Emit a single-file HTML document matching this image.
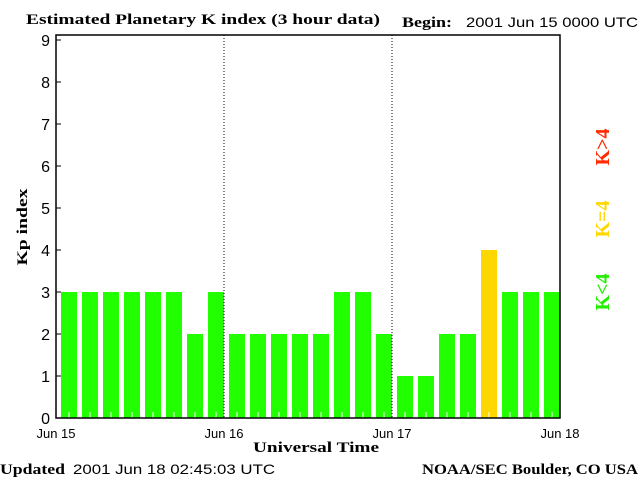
<!DOCTYPE html>
<html><head><meta charset="utf-8"><style>
body{margin:0;background:#fff}
svg{display:block}
.s{font-family:"Liberation Serif",serif;font-weight:bold;font-size:15px}
.n{font-family:"Liberation Sans",sans-serif;font-size:14px}
</style></head><body>
<svg id="c" width="640" height="480" xmlns="http://www.w3.org/2000/svg">
<text class="s" x="26" y="24" textLength="354" lengthAdjust="spacingAndGlyphs">Estimated Planetary K index (3 hour data)</text>
<text class="s" x="402" y="27" textLength="50" lengthAdjust="spacingAndGlyphs">Begin:</text>
<text class="n" x="466" y="27" textLength="172" lengthAdjust="spacingAndGlyphs">2001 Jun 15 0000 UTC</text>
<text class="s" x="0" y="0" transform="translate(27,227) rotate(-90)" text-anchor="middle" textLength="77" lengthAdjust="spacingAndGlyphs">Kp index</text>
<text class="s" x="253" y="452" font-size="14" textLength="126" lengthAdjust="spacingAndGlyphs">Universal Time</text>
<text class="s" x="0" y="474" textLength="65" lengthAdjust="spacingAndGlyphs">Updated</text>
<text class="n" x="73" y="474" textLength="202" lengthAdjust="spacingAndGlyphs">2001 Jun 18 02:45:03 UTC</text>
<text class="s" x="422" y="474" textLength="216" lengthAdjust="spacingAndGlyphs">NOAA/SEC Boulder, CO USA</text>
<g font-family="Liberation Serif,serif" font-weight="bold" font-size="20">
<text transform="translate(609,147) rotate(-90)" text-anchor="middle" fill="#ff2a00">K&gt;4</text>
<text transform="translate(609,219) rotate(-90)" text-anchor="middle" fill="#ffd700">K=4</text>
<text transform="translate(609,292) rotate(-90)" text-anchor="middle" fill="#22ee00">K&lt;4</text>
</g>
<g id="plot"></g>
</svg>
<script>
const kpValues=[3,3,3,3,3,3,2,3,2,2,2,2,2,3,3,2,1,1,2,2,4,3,3,3];
const yTicks=[0,1,2,3,4,5,6,7,8,9];
const dayLabels=["Jun 15","Jun 16","Jun 17","Jun 18"];
const L=56,R=560,T=35,B=418;
const x=i=>L+(R-L)*i/kpValues.length;
const y=v=>B-42*v;
const NS="http://www.w3.org/2000/svg";
const g=document.getElementById('plot');
function mk(t,a){const e=document.createElementNS(NS,t);for(const k in a)e.setAttribute(k,a[k]);g.appendChild(e);return e;}
kpValues.forEach((v,i)=>{
 const col=v>4?'#ff2a00':v==4?'#ffd700':'#22ff00';
 const r=mk('rect',{x:x(i)+5,y:y(v),width:16,height:B-y(v),fill:col});
 
 
 const t=mk('line',{x1:x(i)+13,x2:x(i)+13,y1:B-6,y2:B,stroke:'#fff'});
 
 
});
[1,2].forEach(d=>{const l=mk('line',{x1:x(d*8),x2:x(d*8),y1:T,y2:B,stroke:'#000','stroke-dasharray':'1,2'});
 
 });
const f=mk('rect',{x:L,y:T,width:R-L,height:B-T,fill:'none',stroke:'#000','stroke-width':1.5});


yTicks.forEach(v=>{
 const l=mk('line',{x1:L,x2:L+5,y1:y(v),y2:y(v),stroke:'#000'});
 
 
 const t=mk('text',{x:L-6,y:y(v)+6,'text-anchor':'end','font-family':'Liberation Sans,sans-serif','font-size':16});
 t.textContent=v;
 
 
});
dayLabels.forEach((s,d)=>{
 const t=mk('text',{x:x(d*8),y:438,'text-anchor':'middle','font-family':'Liberation Sans,sans-serif','font-size':13});
 t.textContent=s;
 
 
});
</script>
</body></html>
